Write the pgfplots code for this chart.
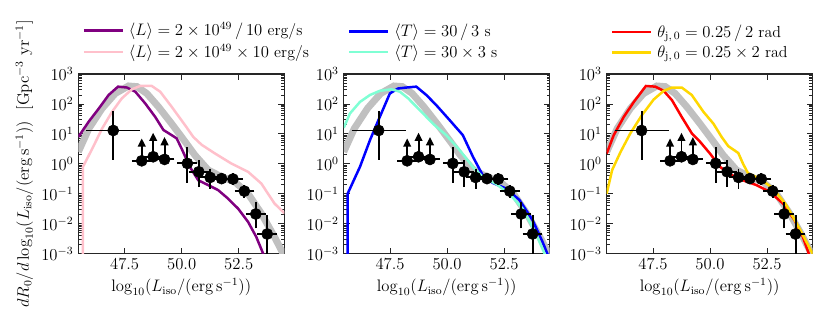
\documentclass[border=0pt]{standalone}
\usepackage{pgfplots}
\usepackage{pgfplotstable}
\pgfplotsset{compat=1.18}
\usetikzlibrary{arrows.meta}

\definecolor{refgray}{RGB}{192,192,192}
\definecolor{mpurple}{RGB}{128,0,128}
\definecolor{mpink}{RGB}{255,192,203}
\definecolor{mblue}{RGB}{0,0,255}
\definecolor{maqua}{RGB}{127,255,212}
\definecolor{mred}{RGB}{255,0,0}
\definecolor{mgold}{RGB}{255,215,0}

\pgfplotstableread{
x y
45.47 2.5
45.93 15
46.51 71
47.09 225
47.67 400
48.04 380
48.47 225
48.98 81
49.56 22
50.15 5.5
50.58 1.95
51.16 0.62
51.74 0.37
52.33 0.25
52.91 0.10
53.49 0.022
54.07 0.0036
54.43 0.00105
54.60 0.0004
}\graydata

\pgfplotstableread{
x y
45.47 7.9
45.93 26
46.37 71
46.80 200
47.21 380
47.60 355
47.97 257
48.40 105
48.84 37
49.20 13.5
49.56 9.1
49.78 7.1
50.00 3.2
50.36 0.79
50.73 0.28
51.16 0.195
51.60 0.132
52.03 0.069
52.47 0.032
52.91 0.0115
53.27 0.0036
53.56 0.00105
53.70 0.0004
}\purpledata

\pgfplotstableread{
x y
45.67 0.0001
45.67 0.79
46.08 3.2
46.51 15
46.95 55
47.38 155
47.82 310
48.18 400
48.69 400
49.06 257
49.56 81
50.15 19.5
50.51 7.9
50.88 4.3
51.45 2.24
52.18 1.02
52.91 0.54
53.49 0.22
54.07 0.047
54.51 0.022
}\pinkdata

\pgfplotstableread{
x y
45.64 0.0001
45.64 0.1
46.18 0.79
46.62 6.2
47.05 37
47.49 224
47.85 330
48.22 355
48.65 380
49.09 200
49.53 91
50.11 29
50.69 9.1
51.13 1.74
51.56 0.42
52.00 0.23
52.58 0.15
53.17 0.062
53.75 0.013
54.18 0.0025
54.50 0.00063
}\bluedata

\pgfplotstableread{
x y
45.47 16
45.74 48
46.18 117
46.62 200
47.05 275
47.56 310
47.93 257
48.29 155
48.80 63
49.38 22
49.96 9.1
50.55 2.9
51.13 0.79
51.56 0.37
52.15 0.21
52.73 0.10
53.31 0.032
53.89 0.0047
54.26 0.00105
54.50 0.0004
}\aquadata

\pgfplotstableread{
x y
45.47 2.2
45.78 9.1
46.22 37
46.66 117
47.19 400
47.60 380
47.97 275
48.33 135
48.76 37
49.20 10.5
49.56 5.5
50.00 2.2
50.44 0.79
50.87 0.45
51.45 0.28
52.03 0.195
52.62 0.115
53.20 0.047
53.71 0.013
54.07 0.0036
54.32 0.00105
54.45 0.0004
}\reddata

\pgfplotstableread{
x y
45.47 0.10
45.71 0.62
46.08 2.5
46.51 10.5
47.02 43
47.53 141
47.97 275
48.33 355
48.76 355
49.20 200
49.71 55
50.15 22
50.51 7.9
50.80 3.9
51.24 2.3
51.45 1.0
51.67 0.48
52.18 0.32
52.76 0.15
53.34 0.042
53.92 0.0069
54.48 0.00105
54.55 0.0007
}\golddata

\pgfplotstableread{
x y exm exp eym eyp
47.00 13.0 1.0 1.0 11.1 30
48.25 1.26 0.25 0.25 0 0
48.75 1.72 0.25 0.25 0 0
49.25 1.40 0.25 0.25 0 0
50.25 1.03 0.25 0.25 0.71 1.57
50.75 0.54 0.25 0.25 0.31 0.41
51.25 0.35 0.25 0.25 0.15 0.15
51.75 0.32 0.25 0.25 0.03 0.03
52.25 0.31 0.25 0.25 0.04 0.04
52.75 0.122 0.25 0.25 0.02 0.02
53.25 0.021 0.25 0.25 0.0114 0.018
53.75 0.0045 0.25 0.25 0.0032 0.0095
}\obsdata

\pgfplotsset{
  refline/.style={refgray, line width=5pt, forget plot},
  modline/.style={line width=1.8pt},
}

\newcommand{\obs}{%
  \addplot[only marks, mark=*, black, mark size=4pt, forget plot,
    error bars/x dir=both, error bars/x explicit, error bars/y dir=both, error bars/y explicit,
    error bars/error bar style={line width=1.4pt, black},
    error bars/error mark options={line width=1.4pt, mark size=3pt, black}]
    table[x=x, y=y, x error minus=exm, x error plus=exp, y error minus=eym, y error plus=eyp]{\obsdata};
  \addplot[black, line width=1.4pt, -{Triangle[width=5.5pt,length=6pt]}, forget plot] coordinates {(48.25,1.26) (48.25,7.1)};
  \addplot[black, line width=1.4pt, -{Triangle[width=5.5pt,length=6pt]}, forget plot] coordinates {(48.75,1.72) (48.75,11)};
  \addplot[black, line width=1.4pt, -{Triangle[width=5.5pt,length=6pt]}, forget plot] coordinates {(49.25,1.40) (49.25,7.9)};
}

\newcommand{\tfont}{\fontsize{11.5}{13}\selectfont}

\begin{document}
\begin{tikzpicture}
\useasboundingbox (0pt,0pt) rectangle (597.6pt,224.64pt);

\begin{axis}[ymode=log,
    scale only axis,
    width=148.3pt, height=129.2pt,
    at={(56.4pt,42.1pt)}, anchor=south west,
    xmin=45.47, xmax=54.5,
    ymin=1e-3, ymax=1e3,
    xtick={47.5,50,52.5},
    xticklabel style={/pgf/number format/fixed, /pgf/number format/fixed zerofill, /pgf/number format/precision=1},
    ytick={1e-3,1e-2,1e-1,1e0,1e1,1e2,1e3},
    tick align=inside,
    tick label style={font=\tfont},
    label style={font=\tfont},
    axis line style={black!85, line width=0.9pt},
    every tick/.style={black!85, line width=0.6pt},
    major tick length=4.3pt, minor tick length=2.3pt,
    xlabel={$\log_{10}(L_{\mathrm{iso}}/(\mathrm{erg\,s^{-1}}))$},
    legend cell align=left,
    legend style={at={(0.02,1.08)}, anchor=south west, draw=none, fill=none,
      inner xsep=0pt, inner ysep=0pt, row sep=4.5pt, column sep=2pt, font=\tfont,
      nodes={inner ysep=0pt, inner xsep=1.5pt}},
    legend image code/.code={\draw[#1] (0pt,0pt) -- (28pt,0pt);},
  ylabel={$dR_0/d\log_{10}(L_{\mathrm{iso}}/(\mathrm{erg\,s^{-1}}))\ \ [\mathrm{Gpc^{-3}\ yr^{-1}}]$},
  ylabel style={at={(axis description cs:-0.262,0.5)}, anchor=center}]
\addplot[refline] table[x=x,y=y]{\graydata};
\addplot[modline, mpurple] table[x=x,y=y]{\purpledata};
\addlegendentry{$\langle L\rangle = 2\times10^{49}\,/\,10$ erg/s}
\addplot[modline, mpink] table[x=x,y=y]{\pinkdata};
\addlegendentry{$\langle L\rangle = 2\times10^{49}\times10$ erg/s}
\obs
\end{axis}

\begin{axis}[ymode=log,
    scale only axis,
    width=148.3pt, height=129.2pt,
    at={(247.5pt,42.1pt)}, anchor=south west,
    xmin=45.47, xmax=54.5,
    ymin=1e-3, ymax=1e3,
    xtick={47.5,50,52.5},
    xticklabel style={/pgf/number format/fixed, /pgf/number format/fixed zerofill, /pgf/number format/precision=1},
    ytick={1e-3,1e-2,1e-1,1e0,1e1,1e2,1e3},
    tick align=inside,
    tick label style={font=\tfont},
    label style={font=\tfont},
    axis line style={black!85, line width=0.9pt},
    every tick/.style={black!85, line width=0.6pt},
    major tick length=4.3pt, minor tick length=2.3pt,
    xlabel={$\log_{10}(L_{\mathrm{iso}}/(\mathrm{erg\,s^{-1}}))$},
    legend cell align=left,
    legend style={at={(0.02,1.08)}, anchor=south west, draw=none, fill=none,
      inner xsep=0pt, inner ysep=0pt, row sep=4.5pt, column sep=2pt, font=\tfont,
      nodes={inner ysep=0pt, inner xsep=1.5pt}},
    legend image code/.code={\draw[#1] (0pt,0pt) -- (28pt,0pt);}]
\addplot[refline] table[x=x,y=y]{\graydata};
\addplot[modline, mblue] table[x=x,y=y]{\bluedata};
\addlegendentry{$\langle T\rangle = 30\,/\,3$ s}
\addplot[modline, maqua] table[x=x,y=y]{\aquadata};
\addlegendentry{$\langle T\rangle = 30\times3$ s}
\obs
\end{axis}

\begin{axis}[ymode=log,
    scale only axis,
    width=148.3pt, height=129.2pt,
    at={(436.8pt,42.1pt)}, anchor=south west,
    xmin=45.47, xmax=54.5,
    ymin=1e-3, ymax=1e3,
    xtick={47.5,50,52.5},
    xticklabel style={/pgf/number format/fixed, /pgf/number format/fixed zerofill, /pgf/number format/precision=1},
    ytick={1e-3,1e-2,1e-1,1e0,1e1,1e2,1e3},
    tick align=inside,
    tick label style={font=\tfont},
    label style={font=\tfont},
    axis line style={black!85, line width=0.9pt},
    every tick/.style={black!85, line width=0.6pt},
    major tick length=4.3pt, minor tick length=2.3pt,
    xlabel={$\log_{10}(L_{\mathrm{iso}}/(\mathrm{erg\,s^{-1}}))$},
    legend cell align=left,
    legend style={at={(0.02,1.08)}, anchor=south west, draw=none, fill=none,
      inner xsep=0pt, inner ysep=0pt, row sep=4.5pt, column sep=2pt, font=\tfont,
      nodes={inner ysep=0pt, inner xsep=1.5pt}},
    legend image code/.code={\draw[#1] (0pt,0pt) -- (28pt,0pt);}]
\addplot[refline] table[x=x,y=y]{\graydata};
\addplot[modline, mred] table[x=x,y=y]{\reddata};
\addlegendentry{$\theta_{\mathrm{j},\,0} = 0.25\,/\,2$ rad}
\addplot[modline, mgold] table[x=x,y=y]{\golddata};
\addlegendentry{$\theta_{\mathrm{j},\,0} = 0.25\times2$ rad}
\obs
\end{axis}
\end{tikzpicture}
\end{document}
